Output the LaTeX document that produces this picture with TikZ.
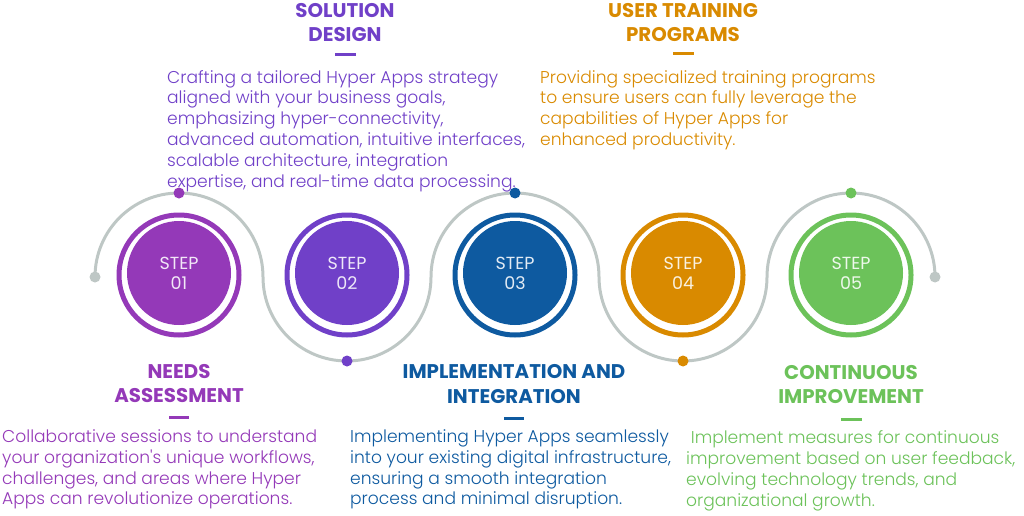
\documentclass[tikz,border=0pt]{standalone}
\usepackage{fontspec}
\setmainfont{Poppins}
\newfontfamily\lightfont{Poppins Light}
\usetikzlibrary{positioning}

\definecolor{needsc}{RGB}{148,57,184}
\definecolor{designc}{RGB}{112,64,200}
\definecolor{implc}{RGB}{14,90,160}
\definecolor{trainc}{RGB}{217,138,0}
\definecolor{improvc}{RGB}{108,194,90}
\definecolor{trackc}{RGB}{190,199,197}

\begin{document}
\begin{tikzpicture}[x=1pt,y=-1pt,
    ring/.style={circle,draw=#1,line width=5pt,fill=white,minimum size=120pt,inner sep=0pt},
    disc/.style={circle,fill=#1,minimum size=104pt,inner sep=0pt,align=center,text=white!88!#1,font=\fontsize{17.5}{20}\selectfont},
    dot/.style={circle,fill=#1,minimum size=11pt,inner sep=0pt},
    head/.style={text=#1,font=\fontsize{19.8}{24.5}\selectfont\bfseries,align=center,inner sep=0pt},
    body/.style={text=#1,font=\fontsize{17.1}{20.8}\selectfont\lightfont,align=left,anchor=north west,inner sep=0pt},
    bar/.style={draw=#1,line width=3pt},
]
\useasboundingbox (0,0) rectangle (1024,516);

% grey track weaving over and under the steps
\draw[trackc,line width=3pt] (95,277)
    arc[start angle=180,end angle=360,radius=84]
    arc[start angle=180,end angle=0,radius=84]
    arc[start angle=180,end angle=360,radius=84]
    arc[start angle=180,end angle=0,radius=84]
    arc[start angle=180,end angle=360,radius=84];
\node[dot=trackc] (trackL) at (95,277) {};
\node[dot=trackc] (trackR) at (935,277) {};

% step circles
\foreach \n/\c/\x in {01/needsc/179,02/designc/347,03/implc/515,04/trainc/683,05/improvc/851}{
  \node[ring=\c] (ring\n) at (\x,275) {};
  \node[disc=\c] (step\n) at (\x,273) {STEP\\\n};
}

% dots on the track
\node[dot=needsc]  (dot01) at (179,193) {};
\node[dot=designc] (dot02) at (347,361) {};
\node[dot=implc]   (dot03) at (515,193) {};
\node[dot=trainc]  (dot04) at (683,361) {};
\node[dot=improvc] (dot05) at (851,193) {};

% ===== top: solution design =====
\node[head=designc] (designHead) at (345,22.5) {SOLUTION\\DESIGN};
\draw[bar=designc] (335,55) -- (356,55);
\node[body=designc] (designText) at (167,70) {Crafting a tailored Hyper Apps strategy\\aligned with your business goals,\\emphasizing hyper-connectivity,\\advanced automation, intuitive interfaces,\\scalable architecture, integration\\expertise, and real-time data processing.};

% ===== top: user training =====
\node[head=trainc] (trainHead) at (683,22.5) {USER TRAINING\\PROGRAMS};
\draw[bar=trainc] (673,54) -- (694,54);
\node[body=trainc] (trainText) at (540,70) {Providing specialized training programs\\to ensure users can fully leverage the\\capabilities of Hyper Apps for\\enhanced productivity.};

% ===== bottom: needs assessment =====
\node[head=needsc] (needsHead) at (179,383.5) {NEEDS\\ASSESSMENT};
\draw[bar=needsc] (169,417) -- (189,417);
\node[body=needsc] (needsText) at (2,429.5) {Collaborative sessions to understand\\your organization's unique workflows,\\challenges, and areas where Hyper\\Apps can revolutionize operations.};

% ===== bottom: implementation =====
\node[head=implc] (implHead) at (514,384) {IMPLEMENTATION AND\\INTEGRATION};
\draw[bar=implc] (504,418) -- (524,418);
\node[body=implc] (implText) at (350,429.5) {Implementing Hyper Apps seamlessly\\into your existing digital infrastructure,\\ensuring a smooth integration\\process and minimal disruption.};

% ===== bottom: continuous improvement =====
\node[head=improvc] (improvHead) at (851,384.5) {CONTINUOUS\\IMPROVEMENT};
\draw[bar=improvc] (841,419) -- (862,419);
\node[body=improvc] (improvText) at (686,430.5) {\ Implement measures for continuous\\improvement based on user feedback,\\evolving technology trends, and\\organizational growth.};

\end{tikzpicture}
\end{document}
